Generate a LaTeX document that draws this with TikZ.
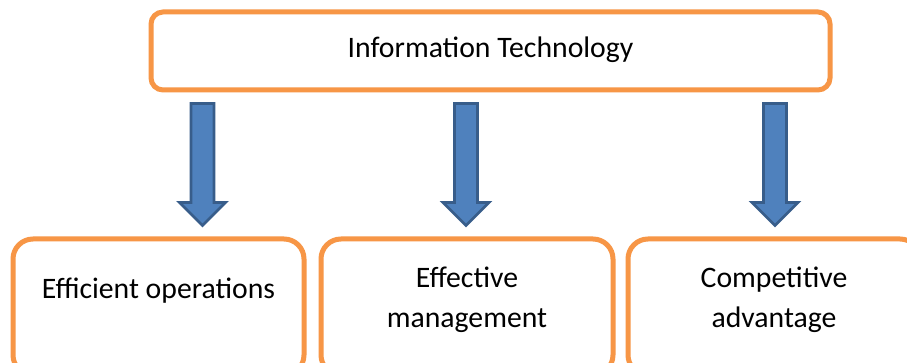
\documentclass[tikz,border=0pt]{standalone}
\usepackage{fontspec}
\setmainfont{Carlito}
\usetikzlibrary{calc}
\definecolor{boxorange}{HTML}{F79646}
\definecolor{arrowfill}{HTML}{4F81BD}
\definecolor{arrowline}{HTML}{385D8A}
\tikzset{
  itbox/.style={draw=boxorange, line width=3.75pt, rounded corners=9pt, fill=white, inner sep=0pt},
  outbox/.style={draw=boxorange, line width=3.75pt, rounded corners=15pt, fill=white, inner sep=0pt},
  boxtext/.style={inner sep=0pt, align=center, font=\fontsize{22.3}{30}\selectfont},
  blockarrow/.style={fill=arrowfill, draw=arrowline, line width=2.1pt, line join=miter}
}
% block arrow: shaft from #1 down to the head, tip at #2
\newcommand\blockarr[2]{%
  \draw[blockarrow] ($(#1)+(-11.5,0)$) -- ($(#1)+(11.5,0)$) -- ($(#2)+(11.5,-23)$)
    -- ($(#2)+(23,-23)$) -- (#2) -- ($(#2)+(-23,-23)$) -- ($(#2)+(-11.5,-23)$) -- cycle;}
\begin{document}
\begin{tikzpicture}[x=0.75pt,y=-0.75pt]
  \useasboundingbox (0,0) rectangle (907,363);
  \clip (0,0) rectangle (907,363);
  \fill[white] (0,0) rectangle (907,363);

  % source box
  \node[itbox, minimum width=509.25pt, minimum height=58.5pt] (it) at (490.5,51) {};
  \node[boxtext] (itt) at (490.5,50) {Information Technology};

  % outcome boxes (their lower edges run past the frame)
  \node[outbox, minimum width=218.25pt, minimum height=102pt] (b1) at (158.5,307) {};
  \node[outbox, minimum width=219pt, minimum height=102pt] (b2) at (467,307) {};
  \node[outbox, minimum width=219pt, minimum height=102pt] (b3) at (774,307) {};
  \node[boxtext] (b1t) at (158.5,290.5) {Efficient operations};
  \node[boxtext] (b2t) at (467,300) {Effective\\management};
  \node[boxtext] (b3t) at (774,300) {Competitive\\advantage};

  % arrows from the source box to each outcome box
  \coordinate (a1s) at (it.south -| 202.5,0);
  \coordinate (a2s) at (it.south -| 466,0);
  \coordinate (a3s) at (it.south -| 775,0);
  \coordinate (a1e) at (b1.north -| a1s);
  \coordinate (a2e) at (b2.north -| a2s);
  \coordinate (a3e) at (b3.north -| a3s);
  \blockarr{$(a1s)+(0,11)$}{$(a1e)+(0,-11)$}
  \blockarr{$(a2s)+(0,11)$}{$(a2e)+(0,-11)$}
  \blockarr{$(a3s)+(0,11)$}{$(a3e)+(0,-11)$}
\end{tikzpicture}
\end{document}
